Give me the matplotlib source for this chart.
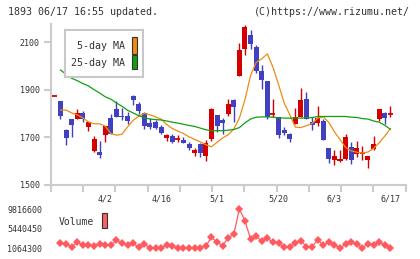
import numpy as np
import matplotlib.pyplot as plt
from matplotlib.patches import Rectangle

plt.rcParams['font.family'] = ['DejaVu Sans Mono']

# --- data (index -1 .. 59, one per trading day) ---
opens = [1872, 1852, 1730, 1776, 1777, 1801, 1741, 1643, 1636, 1709, 1781,
         1818, 1790, 1787, 1873, 1839, 1801, 1759, 1764, 1743, 1698,
         1703, 1694, 1687, 1670, 1633, 1671, 1621, 1694, 1793, 1771,
         1797, 1856, 1959, 2070, 2131, 2079, 1979, 1936, 1797, 1785,
         1729, 1715, 1756, 1783, 1859, 1763, 1760, 1767, 1652, 1605,
         1600, 1608, 1657, 1628, 1633, 1604, 1648, 1777, 1801, 1796]
closes = [1872, 1790, 1698, 1753, 1800, 1777, 1763, 1692, 1625, 1746, 1714,
          1784, 1785, 1767, 1856, 1811, 1747, 1743, 1739, 1719, 1707,
          1681, 1694, 1676, 1652, 1645, 1633, 1677, 1818, 1746, 1760,
          1839, 1828, 2067, 2166, 2092, 1979, 1941, 1785, 1797, 1708,
          1719, 1691, 1783, 1856, 1777, 1752, 1780, 1687, 1608, 1619,
          1609, 1700, 1605, 1653, 1633, 1619, 1670, 1818, 1781, 1796]
highs = [1872, 1852, 1733, 1776, 1818, 1811, 1763, 1705, 1683, 1746, 1797,
         1852, 1821, 1807, 1877, 1848, 1807, 1781, 1771, 1753, 1714,
         1714, 1708, 1701, 1680, 1655, 1677, 1687, 1821, 1793, 1781,
         1860, 1860, 2098, 2174, 2152, 2089, 2004, 1936, 1860, 1785,
         1743, 1719, 1821, 1905, 1889, 1785, 1831, 1776, 1652, 1645,
         1645, 1715, 1680, 1683, 1662, 1619, 1704, 1818, 1807, 1831]
lows = [1872, 1777, 1667, 1701, 1777, 1762, 1726, 1638, 1612, 1680, 1714,
        1784, 1771, 1755, 1834, 1797, 1736, 1732, 1732, 1714, 1684,
        1673, 1678, 1676, 1646, 1622, 1614, 1600, 1684, 1722, 1711,
        1791, 1764, 1959, 2048, 2070, 1972, 1904, 1777, 1785, 1698,
        1708, 1680, 1756, 1783, 1777, 1729, 1746, 1687, 1591, 1583,
        1595, 1602, 1585, 1614, 1605, 1571, 1645, 1766, 1755, 1784]

ma5 = [np.nan,
       1814, 1814, 1802, 1794, 1781, 1764, 1756, 1756, 1746, 1715,
       1708, 1712, 1743, 1771, 1788, 1800, 1794, 1785, 1776, 1753,
       1736, 1725, 1715, 1701, 1690, 1680, 1668, 1659, 1678, 1696,
       1710, 1734, 1780, 1858, 1960, 2015, 2030, 2051, 1995, 1922,
       1845, 1795, 1742, 1740, 1748, 1757, 1780, 1785, 1762, 1722,
       1690, 1656, 1642, 1636, 1633, 1637, 1652, 1676, 1704, 1736]
ma25 = [np.nan,
        1983, 1965, 1948, 1938, 1926, 1916, 1900, 1886, 1870, 1860,
        1844, 1830, 1813, 1802, 1790, 1782, 1776, 1774, 1772, 1768,
        1763, 1759, 1754, 1749, 1745, 1738, 1731, 1727, 1727, 1727,
        1729, 1732, 1740, 1760, 1776, 1784, 1785, 1785, 1784, 1781,
        1780, 1780, 1780, 1780, 1781, 1782, 1787, 1787, 1787, 1787,
        1787, 1787, 1784, 1783, 1778, 1776, 1768, 1763, 1750, 1733]

volumes = [np.nan,
           2178000, 2029000, 1361000, 2401000, 1807000, 1807000, 1584000, 2104000, 1807000, 1807000,
           2846000, 2178000, 1807000, 2178000, 1287000, 1955000, 1213000, 1213000, 1213000, 1732000,
           1584000, 1064300, 1213000, 1139000, 1213000, 1213000, 1584000, 3514000, 2401000, 1658000,
           3440000, 4182000, 9816600, 7152000, 3143000, 3737000, 2697000, 3291000, 2401000, 2178000,
           1361000, 1361000, 2178000, 2772000, 1436000, 1361000, 2995000, 1732000, 2401000, 1807000,
           1090000, 2029000, 2401000, 1955000, 1213000, 2029000, 1881000, 2401000, 1807000, 1100000]
vol_ticks = [1064300, 5440450, 9816600]

date_pos = [8, 18, 28, 39, 49, 59]
date_labels = ['4/2', '4/16', '5/1', '5/20', '6/3', '6/17']

RED = '#d40000'
BLUE = '#4040c0'
ORANGE = '#f08c10'
GREEN = '#10a010'
GRID = '#cccccc'
TXT = '#333333'

W, H = 420, 259
fig = plt.figure(figsize=(W / 100, H / 100), dpi=100)


def fx(p):
    return p / W


def fy(p):
    return 1 - p / H


ax = fig.add_axes([fx(50.7), fy(184.5), fx(405.7) - fx(50.7), fy(24) - fy(184.5)])

x = np.arange(-1, len(opens) - 1)
o = np.array(opens, float)
c = np.array(closes, float)
colors = np.where(c >= o, RED, BLUE)

ax.vlines(x, lows, highs, colors=colors, lw=1, zorder=2)
body_lo = np.minimum(o, c)
body_h = np.abs(c - o)
ax.bar(x, body_h, bottom=body_lo, width=0.9, color=colors, linewidth=0, zorder=3)
doji = body_h == 0
ax.hlines(o[doji], x[doji] - 0.45, x[doji] + 0.45, colors=colors[doji], lw=1.3, zorder=3)

ax.plot(x, ma5, color=ORANGE, lw=0.9, zorder=4)
ax.plot(x, ma25, color=GREEN, lw=0.9, zorder=4)

ax.set_xlim(-1.75, 61.75)
ax.set_ylim(1500, 2177)
for s in ['top', 'right']:
    ax.spines[s].set_visible(False)
for s in ['left', 'bottom']:
    ax.spines[s].set_color(GRID)
    ax.spines[s].set_linewidth(1.5)
ax.set_yticks([1500, 1700, 1900, 2100])
ax.tick_params(axis='y', length=5, width=1.5, color=GRID, labelcolor=TXT, labelsize=6, pad=3)
ax.set_xticks(np.linspace(-1.75, 61.75, 12))
ax.set_xticklabels([])
ax.tick_params(axis='x', which='major', length=5, width=1.5, color=GRID)
ax.set_xticks(date_pos, minor=True)
ax.set_xticklabels(date_labels, minor=True)
ax.tick_params(axis='x', which='minor', length=0, labelcolor=TXT, labelsize=6, pad=7)

# legend box
fig.patches.append(Rectangle((fx(65), fy(77.3)), fx(143.3) - fx(65), fy(30) - fy(77.3),
                             transform=fig.transFigure, facecolor='white',
                             edgecolor='#c8c8c8', lw=1.5, zorder=5))
fig.text(fx(125), fy(46), '5-day MA', ha='right', va='center', fontsize=7.2, color=TXT, zorder=6)
fig.text(fx(125), fy(63.3), '25-day MA', ha='right', va='center', fontsize=7.2, color=TXT, zorder=6)
fig.patches.append(Rectangle((fx(131.7), fy(54)), fx(137.3) - fx(131.7), fy(37.3) - fy(54),
                             transform=fig.transFigure, facecolor=ORANGE, edgecolor='#333333',
                             lw=0.8, zorder=6))
fig.patches.append(Rectangle((fx(131.7), fy(69.3)), fx(137.3) - fx(131.7), fy(55) - fy(69.3),
                             transform=fig.transFigure, facecolor=GREEN, edgecolor='#333333',
                             lw=0.8, zorder=6))

# volume panel
ax2 = fig.add_axes([fx(50.7), fy(252), fx(405.7) - fx(50.7), fy(205) - fy(252)])
ax2.plot(x, volumes, color='#ff5a5f', lw=0.9, marker='D', markersize=4.5,
         markeredgewidth=0)
ax2.set_xlim(-1.75, 61.75)
ax2.set_ylim(240290, 10707420)
for s in ax2.spines.values():
    s.set_visible(False)
ax2.set_xticks([])
ax2.set_yticks(vol_ticks)
ax2.set_yticklabels([str(v) for v in vol_ticks])
ax2.tick_params(axis='y', length=0, labelcolor=TXT, labelsize=6, pad=6)
fig.text(fx(59), fy(221.7), 'Volume', ha='left', va='center', fontsize=7, color=TXT)
fig.patches.append(Rectangle((fx(101.7), fy(228.3)), fx(107.3) - fx(101.7), fy(213.3) - fy(228.3),
                             transform=fig.transFigure, facecolor='#ff6060', edgecolor='#333333',
                             lw=0.8))

fig.text(fx(8), fy(12), '1893 06/17 16:55 updated.', ha='left', va='center', fontsize=7.2, color=TXT)
fig.text(fx(410), fy(12), '(C)https://www.rizumu.net/', ha='right', va='center', fontsize=7.2, color=TXT)

fig.savefig('out.png', dpi=100)
